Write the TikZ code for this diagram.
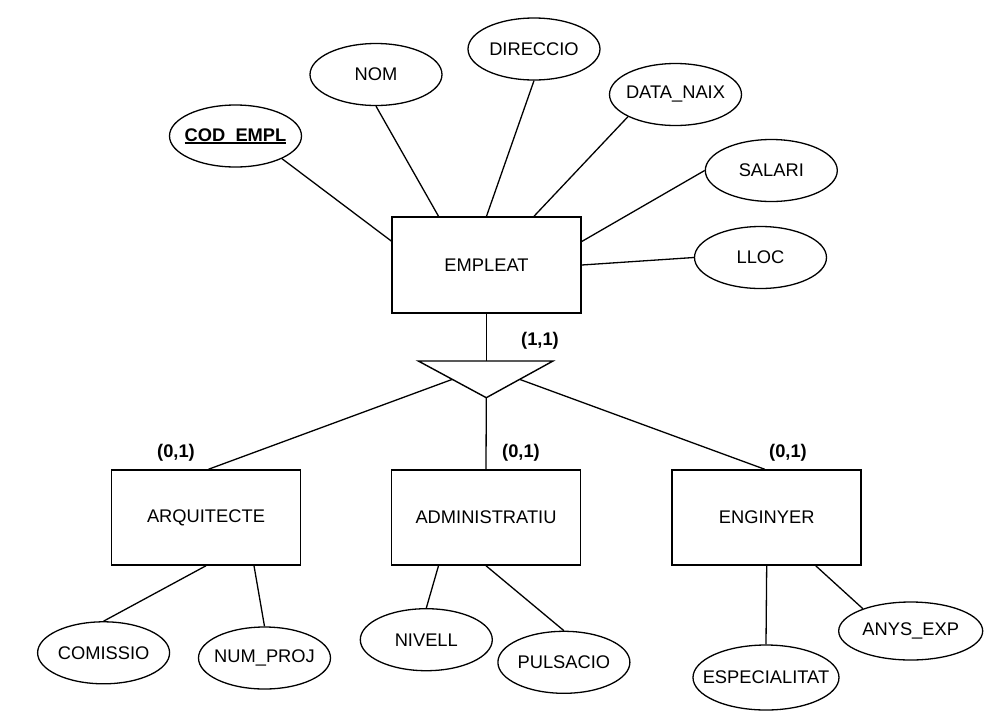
\documentclass[tikz,border=0pt]{standalone}
\usepackage{fontspec}
\setmainfont{Liberation Sans}
\usetikzlibrary{shapes.geometric,calc}
\newcommand\keyul[1]{\setbox0\hbox{#1}\rlap{\rule[-2.6pt]{\wd0}{1.5pt}}\box0}
\newcommand\nw[1]{\makebox[0pt][c]{#1}}
\begin{document}
\begin{tikzpicture}[x=1pt,y=-1pt,
  txt/.style={font=\fontsize{18.3}{21}\selectfont},
  attr/.style={ellipse, draw, line width=1.3pt, minimum width=132pt, minimum height=62pt, inner sep=0pt, txt},
  ent/.style={rectangle, draw, line width=1.5pt, minimum width=189pt, minimum height=95pt, inner sep=0pt, txt},
  card/.style={font=\bfseries\fontsize{18.3}{21}\selectfont},
  link/.style={line width=1.3pt},
  isa/.style={line width=1.4pt, line join=miter}]
\useasboundingbox[fill=white] (0,0) rectangle (997,724);

% EMPLEAT and its attributes
\node[ent, minimum height=96pt] (emp) at (486.5,265) {EMPLEAT};
\node[attr] (cod) at (235.5,136) {\nw{\bfseries\keyul{COD\_EMPL}}};
\node[attr] (nom) at (376,74.5) {\nw{NOM}};
\node[attr] (dir) at (534,49) {\nw{DIRECCIO}};
\node[attr] (data) at (675.5,94.5) {\nw{DATA\_NAIX}};
\node[attr] (sal) at (771.3,170.5) {\nw{SALARI}};
\node[attr] (lloc) at (760.5,257.5) {\nw{LLOC}};

\draw[link] (cod.-26) -- ($(emp.west)+(0,-24)$);
\draw[link] (nom.south) -- ($(emp.north)+(-48,0)$);
\draw[link] (dir.south) -- (emp.north);
\draw[link] (data.205) -- ($(emp.north)+(47.5,0)$);
\draw[link] (sal.west) -- ($(emp.east)+(0,-23.5)$);
\draw[link] (lloc.west) -- (emp.east);

% ISA triangle
\coordinate (tl) at (418.3,361);
\coordinate (tr) at (553,361);
\coordinate (tb) at (486.3,397.7);
\coordinate (ttop) at (486.5,361);
\draw[isa] (tl) -- (tr) -- (tb) -- cycle;
\draw[link] (emp.south) -- (ttop);
\node[card] (c11) at (540,341) {(1,1)};

% Subtypes
\node[ent] (arq) at (206,517.5) {ARQUITECTE};
\node[ent] (adm) at (486,517.5) {ADMINISTRATIU};
\node[ent] (eng) at (766.7,517.5) {ENGINYER};

\draw[link] ($(tl)!0.5!(tb)$) -- ($(arq.north)+(2.5,0)$);
\draw[link] (tb) -- (adm.north);
\draw[link] ($(tr)!0.5!(tb)$) -- ($(eng.north)+(-2,0)$);

\node[card] (c01a) at (176,453) {(0,1)};
\node[card] (c01b) at (521,453) {(0,1)};
\node[card] (c01c) at (788,453) {(0,1)};

% Subtype attributes
\node[attr] (com) at (103.6,652.8) {\nw{COMISSIO}};
\node[attr] (num) at (264.5,658) {\nw{NUM\_PROJ}};
\node[attr] (niv) at (426.3,639.7) {\nw{NIVELL}};
\node[attr] (pul) at (563.9,662.3) {\nw{PULSACIO}};
\node[attr, minimum width=146pt, minimum height=65pt] (esp) at (766,677.5) {\nw{ESPECIALITAT}};
\node[attr, minimum width=144pt, minimum height=58pt] (anys) at (910.7,631) {\nw{ANYS\_EXP}};

\draw[link] (arq.south) -- (com.north);
\draw[link] ($(arq.south)+(48,0)$) -- (num.north);
\draw[link] ($(adm.south)+(-47.5,0)$) -- (niv.north);
\draw[link] (adm.south) -- (pul.north);
\draw[link] (eng.south) -- (esp.north);
\draw[link] ($(eng.south)+(49,0)$) -- (anys.155);
\end{tikzpicture}
\end{document}
